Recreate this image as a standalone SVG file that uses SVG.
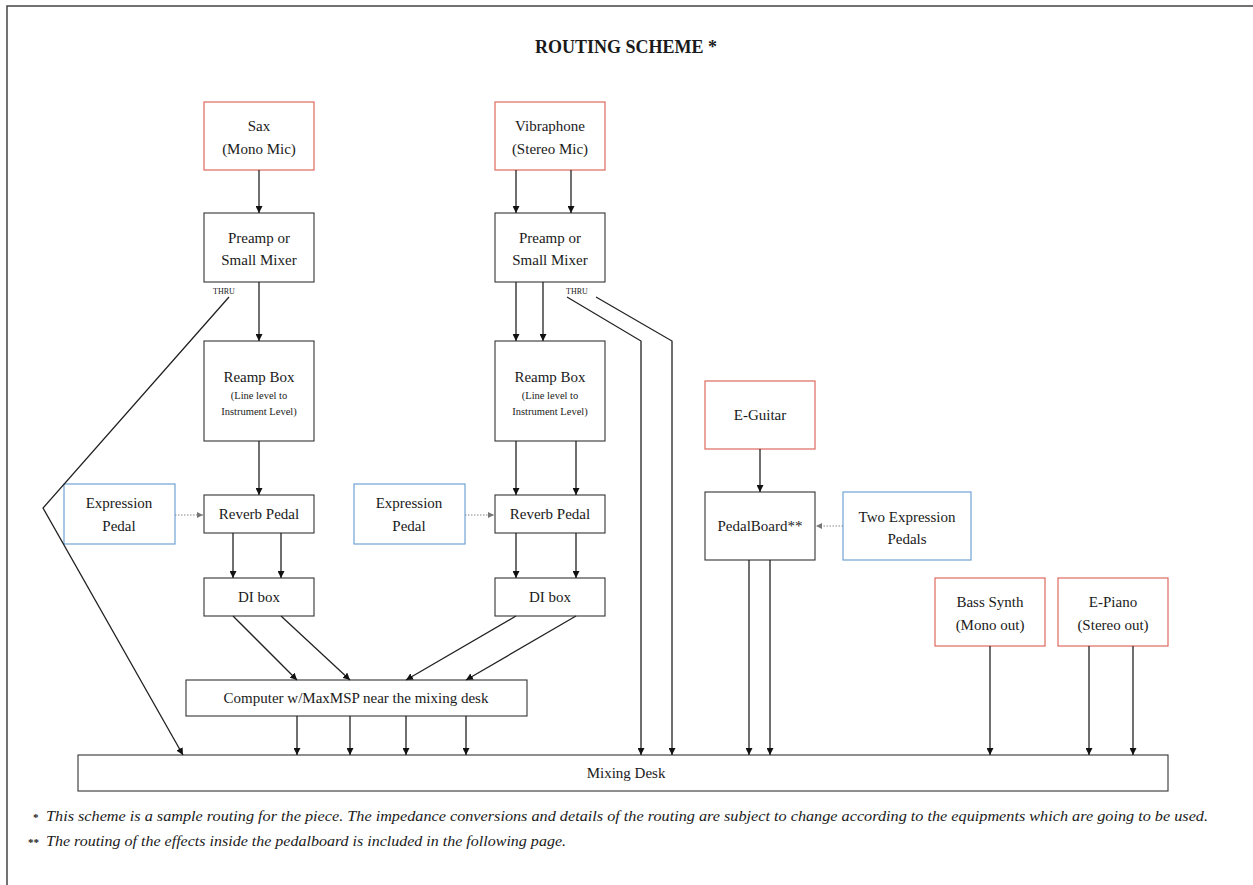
<svg xmlns="http://www.w3.org/2000/svg" width="1253" height="885" viewBox="0 0 1253 885">
<style>
  text { font-family: "Liberation Serif", "DejaVu Serif", serif; fill: #1a1a1a; }
  .lbl { font-size: 15px; text-anchor: middle; }
  .sub { font-size: 10.5px; text-anchor: middle; }
  .thru { font-size: 8px; }
  .title { font-size: 18px; font-weight: bold; text-anchor: middle; }
  .note { font-size: 14px; font-style: italic; }
  .mark { font-size: 11px; font-weight: bold; }
  .red { fill: #fff; stroke: #e06a5e; stroke-width: 1.2; }
  .blue { fill: #fff; stroke: #6fa3d6; stroke-width: 1.2; }
  .blk { fill: #fff; stroke: #333; stroke-width: 1.1; }
  .wire { fill: none; stroke: #222; stroke-width: 1.3; marker-end: url(#ah); }
  .dot { fill: none; stroke: #888; stroke-width: 1; stroke-dasharray: 1.5 1.5; marker-end: url(#ahg); }
</style>
<defs>
  <marker id="ah" viewBox="0 0 10 10" refX="10" refY="5" markerWidth="7" markerHeight="7" markerUnits="userSpaceOnUse" orient="auto">
    <path d="M0,0 L10,5 L0,10 z" fill="#111"/>
  </marker>
  <marker id="ahg" viewBox="0 0 10 10" refX="10" refY="5" markerWidth="6" markerHeight="6" markerUnits="userSpaceOnUse" orient="auto">
    <path d="M0,0 L10,5 L0,10 z" fill="#777"/>
  </marker>
</defs>
<rect width="1253" height="885" fill="#fff"/>
<path d="M7,885 V6 H1253" fill="none" stroke="#444" stroke-width="1.5"/>
<text class="title" x="626" y="53">ROUTING SCHEME *</text>

<g id="sax"><rect class="red" x="204" y="102" width="110" height="68"/><text class="lbl" x="259" y="131">Sax</text><text class="lbl" x="259" y="154">(Mono Mic)</text></g>
<g id="preamp1"><rect class="blk" x="204" y="213" width="110" height="69"/><text class="lbl" x="259" y="243">Preamp or</text><text class="lbl" x="259" y="265">Small Mixer</text><text class="thru" x="213" y="294">THRU</text></g>
<g id="reamp1"><rect class="blk" x="204" y="341" width="110" height="100"/><text class="lbl" x="259" y="382">Reamp Box</text><text class="sub" x="259" y="399">(Line level to</text><text class="sub" x="259" y="415">Instrument Level)</text></g>
<g id="reverb1"><rect class="blk" x="204" y="495" width="110" height="38"/><text class="lbl" x="259" y="519">Reverb Pedal</text></g>
<g id="expr1"><rect class="blue" x="64" y="484" width="111" height="60"/><text class="lbl" x="119" y="508">Expression</text><text class="lbl" x="119" y="531">Pedal</text></g>
<g id="di1"><rect class="blk" x="204" y="578" width="110" height="38"/><text class="lbl" x="259" y="602">DI box</text></g>

<g id="vibra"><rect class="red" x="495" y="102" width="110" height="68"/><text class="lbl" x="550" y="131">Vibraphone</text><text class="lbl" x="550" y="154">(Stereo Mic)</text></g>
<g id="preamp2"><rect class="blk" x="495" y="213" width="110" height="69"/><text class="lbl" x="550" y="243">Preamp or</text><text class="lbl" x="550" y="265">Small Mixer</text><text class="thru" x="566" y="294">THRU</text></g>
<g id="reamp2"><rect class="blk" x="495" y="341" width="110" height="100"/><text class="lbl" x="550" y="382">Reamp Box</text><text class="sub" x="550" y="399">(Line level to</text><text class="sub" x="550" y="415">Instrument Level)</text></g>
<g id="reverb2"><rect class="blk" x="495" y="495" width="110" height="38"/><text class="lbl" x="550" y="519">Reverb Pedal</text></g>
<g id="expr2"><rect class="blue" x="354" y="484" width="111" height="60"/><text class="lbl" x="409" y="508">Expression</text><text class="lbl" x="409" y="531">Pedal</text></g>
<g id="di2"><rect class="blk" x="495" y="578" width="110" height="38"/><text class="lbl" x="550" y="602">DI box</text></g>

<g id="computer"><rect class="blk" x="186" y="680" width="341" height="36"/><text class="lbl" x="356" y="703">Computer w/MaxMSP near the mixing desk</text></g>

<g id="eguitar"><rect class="red" x="705" y="381" width="110" height="68"/><text class="lbl" x="760" y="420">E-Guitar</text></g>
<g id="pedalboard"><rect class="blk" x="705" y="492" width="110" height="68"/><text class="lbl" x="760" y="531">PedalBoard**</text></g>
<g id="expr3"><rect class="blue" x="843" y="492" width="128" height="68"/><text class="lbl" x="907" y="522">Two Expression</text><text class="lbl" x="907" y="544">Pedals</text></g>

<g id="bass"><rect class="red" x="935" y="578" width="110" height="68"/><text class="lbl" x="990" y="607">Bass Synth</text><text class="lbl" x="990" y="630">(Mono out)</text></g>
<g id="epiano"><rect class="red" x="1058" y="578" width="110" height="68"/><text class="lbl" x="1113" y="607">E-Piano</text><text class="lbl" x="1113" y="630">(Stereo out)</text></g>

<g id="mixer"><rect class="blk" x="78" y="755" width="1090" height="36"/><text class="lbl" x="626" y="778">Mixing Desk</text></g>

<g id="connectors">
  <line class="wire" x1="259" y1="170" x2="259" y2="213"/>
  <line class="wire" x1="516" y1="170" x2="516" y2="213"/>
  <line class="wire" x1="571" y1="170" x2="571" y2="213"/>
  <line class="wire" x1="259" y1="282" x2="259" y2="341"/>
  <line class="wire" x1="516" y1="282" x2="516" y2="341"/>
  <line class="wire" x1="543" y1="282" x2="543" y2="341"/>
  <line class="wire" x1="259" y1="441" x2="259" y2="495"/>
  <line class="wire" x1="516" y1="441" x2="516" y2="495"/>
  <line class="wire" x1="576" y1="441" x2="576" y2="495"/>
  <line class="wire" x1="233" y1="533" x2="233" y2="578"/>
  <line class="wire" x1="281" y1="533" x2="281" y2="578"/>
  <line class="wire" x1="516" y1="533" x2="516" y2="578"/>
  <line class="wire" x1="576" y1="533" x2="576" y2="578"/>
  <line class="dot" x1="175" y1="515" x2="203" y2="515"/>
  <line class="dot" x1="465" y1="515" x2="494" y2="515"/>
  <line class="dot" x1="843" y1="526" x2="816" y2="526"/>
  <line class="wire" x1="233" y1="616" x2="297" y2="680"/>
  <line class="wire" x1="281" y1="616" x2="350" y2="680"/>
  <line class="wire" x1="516" y1="616" x2="406" y2="680"/>
  <line class="wire" x1="576" y1="616" x2="466" y2="680"/>
  <line class="wire" x1="297" y1="716" x2="297" y2="755"/>
  <line class="wire" x1="350" y1="716" x2="350" y2="755"/>
  <line class="wire" x1="406" y1="716" x2="406" y2="755"/>
  <line class="wire" x1="466" y1="716" x2="466" y2="755"/>
  <polyline class="wire" points="229,297 43,508 183,755"/>
  <polyline class="wire" points="567,297 641,341 641,755"/>
  <polyline class="wire" points="596,297 672,341 672,755"/>
  <line class="wire" x1="760" y1="449" x2="760" y2="492"/>
  <line class="wire" x1="749" y1="560" x2="749" y2="755"/>
  <line class="wire" x1="770" y1="560" x2="770" y2="755"/>
  <line class="wire" x1="990" y1="646" x2="990" y2="755"/>
  <line class="wire" x1="1089" y1="646" x2="1089" y2="755"/>
  <line class="wire" x1="1133" y1="646" x2="1133" y2="755"/>
</g>

<text class="mark" x="33" y="821">*</text>
<text class="note" x="46" y="821" textLength="1162" lengthAdjust="spacingAndGlyphs">This scheme is a sample routing for the piece. The impedance conversions and details of the routing are subject to change according to the equipments which are going to be used.</text>
<text class="mark" x="28" y="846">**</text>
<text class="note" x="46" y="846" textLength="520" lengthAdjust="spacingAndGlyphs">The routing of the effects inside the pedalboard is included in the following page.</text>
</svg>
